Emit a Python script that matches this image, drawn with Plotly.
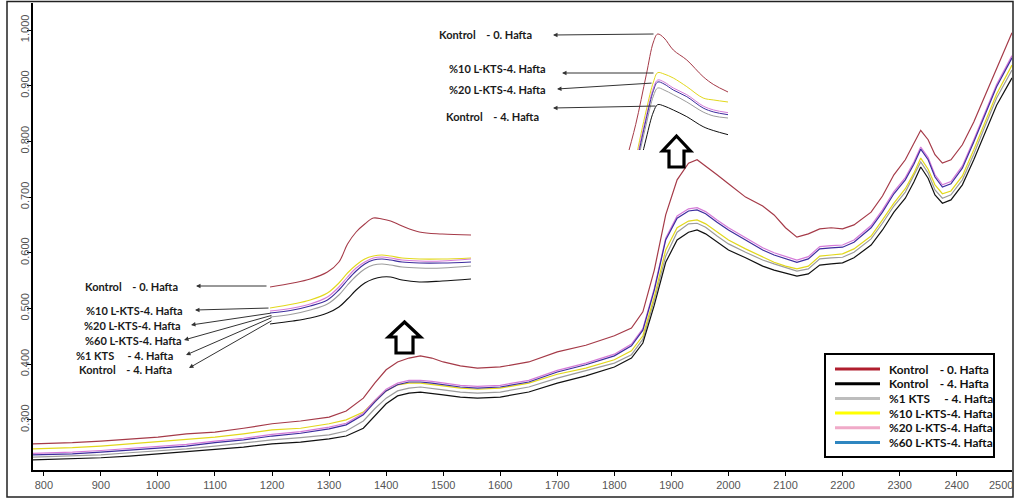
import plotly.graph_objects as go

# ---------------- data ----------------
wavelength = [781, 850, 900, 950, 1000, 1050, 1100, 1150, 1200, 1250,
              1300, 1330, 1360, 1380, 1400, 1420, 1440, 1460, 1480, 1500,
              1530, 1560, 1600, 1650, 1700, 1750, 1800, 1830, 1850, 1870,
              1890, 1910, 1930, 1945, 1960, 1980, 2000, 2030, 2060, 2080,
              2100, 2120, 2140, 2160, 2180, 2200, 2220, 2250, 2270, 2290,
              2310, 2325, 2337, 2350, 2362, 2375, 2390, 2410, 2430, 2450,
              2470, 2497]

kontrol_0 = [0.257, 0.259, 0.262, 0.266, 0.269, 0.275, 0.278, 0.285, 0.293, 0.298,
             0.305, 0.316, 0.339, 0.366, 0.390, 0.404, 0.411, 0.415, 0.411, 0.404,
             0.397, 0.393, 0.395, 0.404, 0.422, 0.434, 0.451, 0.465, 0.494, 0.569,
             0.668, 0.731, 0.761, 0.767, 0.756, 0.740, 0.724, 0.700, 0.684, 0.668,
             0.645, 0.628, 0.634, 0.643, 0.645, 0.643, 0.650, 0.673, 0.702, 0.740,
             0.767, 0.797, 0.820, 0.803, 0.776, 0.761, 0.767, 0.794, 0.835, 0.883,
             0.932, 0.995]

kontrol_4 = [0.228, 0.230, 0.232, 0.235, 0.239, 0.242, 0.246, 0.251, 0.257, 0.260,
             0.266, 0.271, 0.285, 0.307, 0.329, 0.343, 0.348, 0.350, 0.348, 0.345,
             0.341, 0.339, 0.341, 0.350, 0.366, 0.379, 0.395, 0.411, 0.438, 0.506,
             0.583, 0.623, 0.637, 0.641, 0.634, 0.619, 0.605, 0.591, 0.576, 0.569,
             0.564, 0.558, 0.562, 0.578, 0.580, 0.582, 0.591, 0.614, 0.641, 0.673,
             0.698, 0.727, 0.754, 0.734, 0.704, 0.689, 0.695, 0.722, 0.767, 0.815,
             0.865, 0.914]

kts_1 = [0.233, 0.235, 0.237, 0.241, 0.244, 0.248, 0.253, 0.259, 0.264, 0.268,
         0.273, 0.280, 0.298, 0.320, 0.339, 0.352, 0.357, 0.359, 0.357, 0.354,
         0.350, 0.348, 0.350, 0.359, 0.375, 0.388, 0.402, 0.417, 0.445, 0.515,
         0.594, 0.637, 0.652, 0.653, 0.646, 0.630, 0.616, 0.601, 0.587, 0.580,
         0.573, 0.567, 0.571, 0.589, 0.591, 0.592, 0.601, 0.625, 0.653, 0.684,
         0.709, 0.738, 0.763, 0.743, 0.713, 0.698, 0.704, 0.731, 0.777, 0.828,
         0.878, 0.928]

l_kts_10 = [0.248, 0.250, 0.253, 0.257, 0.260, 0.264, 0.269, 0.275, 0.282, 0.285,
            0.293, 0.300, 0.314, 0.334, 0.352, 0.363, 0.366, 0.366, 0.364, 0.361,
            0.357, 0.355, 0.357, 0.366, 0.382, 0.393, 0.408, 0.424, 0.451, 0.521,
            0.605, 0.645, 0.657, 0.659, 0.652, 0.637, 0.623, 0.607, 0.592, 0.583,
            0.576, 0.571, 0.576, 0.594, 0.596, 0.598, 0.607, 0.630, 0.659, 0.689,
            0.715, 0.743, 0.770, 0.750, 0.722, 0.706, 0.711, 0.738, 0.785, 0.835,
            0.885, 0.937]

l_kts_20 = [0.240, 0.242, 0.245, 0.249, 0.253, 0.256, 0.262, 0.267, 0.274, 0.279,
            0.287, 0.294, 0.312, 0.335, 0.355, 0.366, 0.371, 0.371, 0.369, 0.366,
            0.362, 0.360, 0.362, 0.371, 0.389, 0.402, 0.418, 0.436, 0.464, 0.536,
            0.626, 0.666, 0.679, 0.681, 0.674, 0.659, 0.645, 0.627, 0.609, 0.600,
            0.593, 0.587, 0.593, 0.611, 0.613, 0.614, 0.623, 0.649, 0.677, 0.710,
            0.735, 0.763, 0.790, 0.771, 0.740, 0.722, 0.728, 0.756, 0.803, 0.853,
            0.902, 0.954]

l_kts_60 = [0.237, 0.239, 0.242, 0.246, 0.250, 0.253, 0.259, 0.264, 0.271, 0.276,
            0.284, 0.291, 0.309, 0.332, 0.352, 0.363, 0.368, 0.368, 0.366, 0.363,
            0.359, 0.357, 0.359, 0.368, 0.386, 0.399, 0.415, 0.433, 0.461, 0.533,
            0.623, 0.662, 0.675, 0.677, 0.670, 0.655, 0.641, 0.623, 0.605, 0.596,
            0.589, 0.583, 0.589, 0.607, 0.609, 0.610, 0.619, 0.645, 0.673, 0.706,
            0.731, 0.759, 0.786, 0.767, 0.736, 0.718, 0.724, 0.752, 0.799, 0.849,
            0.898, 0.950]

# inset 1 (magnified 1200-1550 nm region)
inset1_wl = [1200, 1240, 1270, 1300, 1320, 1335, 1350, 1365, 1380, 1395, 1410, 1430, 1460, 1500, 1550]
inset1_kontrol_0 = [0.343, 0.347, 0.351, 0.358, 0.368, 0.386, 0.398, 0.406, 0.412, 0.411, 0.409, 0.404, 0.398, 0.396, 0.395]
inset1_l_kts_10 = [0.322, 0.326, 0.330, 0.337, 0.347, 0.357, 0.365, 0.371, 0.374, 0.375, 0.374, 0.372, 0.371, 0.371, 0.372]
inset1_l_kts_20 = [0.319, 0.322, 0.326, 0.333, 0.343, 0.353, 0.362, 0.368, 0.372, 0.373, 0.372, 0.370, 0.369, 0.369, 0.371]
inset1_l_kts_60 = [0.317, 0.320, 0.324, 0.330, 0.340, 0.350, 0.359, 0.366, 0.370, 0.371, 0.370, 0.368, 0.367, 0.367, 0.368]
inset1_kts_1 = [0.313, 0.316, 0.320, 0.326, 0.335, 0.345, 0.354, 0.361, 0.365, 0.366, 0.365, 0.363, 0.362, 0.362, 0.364]
inset1_kontrol_4 = [0.306, 0.309, 0.312, 0.317, 0.323, 0.331, 0.340, 0.347, 0.351, 0.353, 0.353, 0.350, 0.348, 0.349, 0.351]

# inset 2 (magnified 1900-2045 nm region)
inset2_wl = [1900, 1915, 1930, 1940, 1946, 1955, 1968, 1987, 2010, 2025, 2045]
inset2_kontrol_0 = [0.578, 0.638, 0.713, 0.762, 0.774, 0.768, 0.750, 0.735, 0.710, 0.698, 0.687]
inset2_l_kts_10 = [0.495, 0.585, 0.660, 0.702, 0.716, 0.714, 0.708, 0.695, 0.678, 0.675, 0.672]
inset2_l_kts_20 = [0.488, 0.578, 0.651, 0.693, 0.705, 0.702, 0.693, 0.683, 0.666, 0.660, 0.656]
inset2_l_kts_60 = [0.483, 0.573, 0.647, 0.689, 0.702, 0.699, 0.690, 0.680, 0.663, 0.657, 0.653]
inset2_kts_1 = [0.477, 0.567, 0.639, 0.681, 0.693, 0.690, 0.683, 0.672, 0.657, 0.651, 0.648]
inset2_kontrol_4 = [0.458, 0.548, 0.618, 0.657, 0.668, 0.666, 0.660, 0.650, 0.635, 0.629, 0.623]

x_ticks = [800, 900, 1000, 1100, 1200, 1300, 1400, 1500, 1600, 1700, 1800, 1900, 2000, 2100, 2200, 2300, 2400]
y_ticks = [0.3, 0.4, 0.5, 0.6, 0.7, 0.8, 0.9, 1.0]

names = ["Kontrol\u00a0\u00a0\u00a0 - 0. Hafta", "Kontrol\u00a0\u00a0\u00a0 - 4. Hafta",
         "%1 KTS\u00a0\u00a0\u00a0\u00a0 - 4. Hafta", "%10 L-KTS-4. Hafta",
         "%20 L-KTS-4. Hafta", "%60 L-KTS-4. Hafta"]
line_colors = ["#a53a48", "#111111", "#9c9c9c", "#e2d81c", "#d57ad8", "#3d2c9e"]
legend_colors = ["#b01e2e", "#000000", "#bdbdbd", "#ffff00", "#f0aac8", "#2f86c0"]

main_vals = [kontrol_0, kontrol_4, kts_1, l_kts_10, l_kts_20, l_kts_60]
ins1_vals = [inset1_kontrol_0, inset1_kontrol_4, inset1_kts_1, inset1_l_kts_10, inset1_l_kts_20, inset1_l_kts_60]
ins2_vals = [inset2_kontrol_0, inset2_kontrol_4, inset2_kts_1, inset2_l_kts_10, inset2_l_kts_20, inset2_l_kts_60]
draw_order = [2, 1, 3, 4, 5, 0]

# ---------------- geometry ----------------
W, H = 1015, 501
L, R, T, B = 33, 1012, 3, 470


def px(p):
    return (p - L) / (R - L)


def py(p):
    return (B - p) / (B - T)


fig = go.Figure()

for i in draw_order:
    fig.add_trace(go.Scatter(x=wavelength, y=main_vals[i], mode="lines", name=names[i],
                             line=dict(color=line_colors[i], width=1.2), showlegend=False,
                             xaxis="x", yaxis="y"))
for i in draw_order:
    fig.add_trace(go.Scatter(x=inset1_wl, y=ins1_vals[i], mode="lines", showlegend=False,
                             line=dict(color=line_colors[i], width=1.1, shape="spline"),
                             xaxis="x2", yaxis="y2"))
for i in draw_order:
    fig.add_trace(go.Scatter(x=inset2_wl, y=ins2_vals[i], mode="lines", showlegend=False,
                             line=dict(color=line_colors[i], width=1.0, shape="spline"),
                             xaxis="x3", yaxis="y3"))

tick_font = dict(family="Liberation Sans, Arial", size=11, color="#555555")
label_font = dict(family="Lato, Open Sans, sans-serif", size=11, color="#1a1a1a")

annotations = []
shapes = []

# outer frame
shapes.append(dict(type="rect", xref="paper", yref="paper", x0=px(7), x1=px(1013), y0=py(497), y1=py(1.5),
                   line=dict(color="#222222", width=1.5), fillcolor="rgba(0,0,0,0)", layer="above"))

# last tick label drawn at the edge
annotations.append(dict(text="2500", xref="paper", yref="paper", x=px(1001), y=py(485), showarrow=False,
                        xanchor="center", yanchor="middle", font=tick_font))

# inset 1 labels and arrows
ins1_label_order = [0, 3, 4, 5, 2, 1]
ins1_text_x = [84, 85, 83, 84, 75, 78]
ins1_text_y = [286, 310, 325, 340, 355, 370]
ins1_head = [(196, 286), (195, 310), (191, 325), (184, 340), (186, 355), (189, 368)]
ins1_tail = [(268, 286), (270, 308), (272, 313), (273, 315), (273, 317), (273, 320)]
for k, i in enumerate(ins1_label_order):
    annotations.append(dict(text="<b>" + names[i] + "</b>", xref="paper", yref="paper",
                            x=px(ins1_text_x[k]), y=py(ins1_text_y[k]), xanchor="left", yanchor="middle",
                            showarrow=False, font=label_font, borderpad=0))
    hx, hy = ins1_head[k]
    tx, ty = ins1_tail[k]
    annotations.append(dict(text="", xref="paper", yref="paper", x=px(hx), y=py(hy),
                            ax=tx - hx, ay=ty - hy, showarrow=True, arrowhead=2, arrowsize=0.9,
                            arrowwidth=1, arrowcolor="#333333"))

# inset 2 labels and arrows
ins2_label_order = [0, 3, 4, 1]
ins2_text_x = [438, 448, 448, 445]
ins2_text_y = [35, 69, 90, 116]
ins2_head = [(553, 35), (562, 73), (557, 89), (553, 108)]
ins2_tail = [(655, 34), (655, 73), (653, 83), (657, 106)]
for k, i in enumerate(ins2_label_order):
    annotations.append(dict(text="<b>" + names[i] + "</b>", xref="paper", yref="paper",
                            x=px(ins2_text_x[k]), y=py(ins2_text_y[k]), xanchor="left", yanchor="middle",
                            showarrow=False, font=label_font, borderpad=0))
    hx, hy = ins2_head[k]
    tx, ty = ins2_tail[k]
    annotations.append(dict(text="", xref="paper", yref="paper", x=px(hx), y=py(hy),
                            ax=tx - hx, ay=ty - hy, showarrow=True, arrowhead=2, arrowsize=0.9,
                            arrowwidth=1, arrowcolor="#333333"))


# hollow block arrows
def block_arrow(cx, top, w=32, stem=17, head_h=15, total=31):
    pts = [(cx, top), (cx + w / 2, top + head_h), (cx + stem / 2, top + head_h),
           (cx + stem / 2, top + total), (cx - stem / 2, top + total), (cx - stem / 2, top + head_h),
           (cx - w / 2, top + head_h)]
    path = "M " + " L ".join(f"{px(a):.5f},{py(b):.5f}" for a, b in pts) + " Z"
    return dict(type="path", xref="paper", yref="paper", path=path,
                line=dict(color="#000000", width=3.2), fillcolor="white", layer="above")


shapes.append(block_arrow(404.5, 322))
shapes.append(block_arrow(676.5, 136, w=28, stem=15, head_h=15, total=31))

# legend box
shapes.append(dict(type="rect", xref="paper", yref="paper", x0=px(825), x1=px(994), y0=py(457), y1=py(354),
                   line=dict(color="#000000", width=2), fillcolor="white", layer="above"))
for k in range(6):
    yy = 369 + k * 14.7
    shapes.append(dict(type="line", xref="paper", yref="paper", x0=px(835), x1=px(880), y0=py(yy), y1=py(yy),
                       line=dict(color=legend_colors[k], width=3), layer="above"))
    annotations.append(dict(text="<b>" + names[k] + "</b>", xref="paper", yref="paper",
                            x=px(888), y=py(yy), xanchor="left", yanchor="middle", showarrow=False,
                            font=dict(family="Lato, Open Sans, sans-serif", size=11.8, color="#111111"),
                            borderpad=0))

fig.update_layout(
    width=W, height=H,
    margin=dict(l=L, r=W - R, t=T, b=H - B, pad=0),
    paper_bgcolor="white", plot_bgcolor="white",
    showlegend=False,
    xaxis=dict(range=[781, 2497], tickvals=x_ticks, ticktext=[str(v) for v in x_ticks],
               showgrid=False, zeroline=False, showline=True, linecolor="#000000", linewidth=2,
               ticks="outside", ticklen=4, tickwidth=1, tickcolor="#000000", tickfont=tick_font,
               anchor="y", domain=[0, 1]),
    yaxis=dict(range=[0.210, 1.0485], tickvals=y_ticks, ticktext=[f"{v:.3f}" for v in y_ticks],
               tickangle=-90, showgrid=False, zeroline=False, showline=True, linecolor="#000000",
               linewidth=2, ticks="outside", ticklen=4, tickwidth=1, tickcolor="#000000",
               tickfont=tick_font, anchor="x", domain=[0, 1], ticklabelstandoff=-6),
    xaxis2=dict(domain=[px(270), px(471)], range=[1200, 1550], visible=False, anchor="y2"),
    yaxis2=dict(domain=[py(330), py(210)], range=[0.30, 0.42], visible=False, anchor="x2"),
    xaxis3=dict(domain=[px(625), px(728)], range=[1900, 2045], visible=False, anchor="y3"),
    yaxis3=dict(domain=[py(150), py(30)], range=[0.60, 0.78], visible=False, anchor="x3"),
    annotations=annotations,
    shapes=shapes,
)

fig.write_html("out.html")
